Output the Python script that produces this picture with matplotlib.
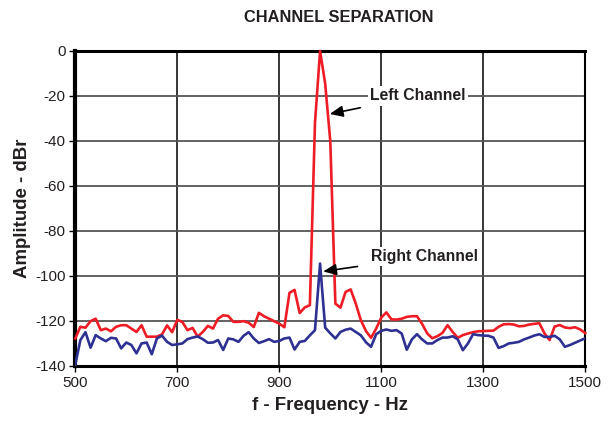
import numpy as np
import matplotlib
matplotlib.use("Agg")
import matplotlib.pyplot as plt

plt.rcParams['font.family'] = ['Liberation Sans', 'DejaVu Sans']

# frequency grid, 10 Hz steps from 500 to 1500 Hz
freq = np.arange(500, 1501, 10)

left_channel = [
    -127.8, -122.6, -123.0, -120.1, -119.0, -124.1, -123.4, -124.6, -122.6, -121.9,
    -121.9, -123.4, -124.9, -121.9, -127.0, -127.0, -127.0, -126.0, -122.0, -125.0,
    -119.5, -120.5, -124.1, -123.1, -127.0, -124.9, -122.2, -123.4, -119.0, -117.5,
    -117.8, -120.4, -120.4, -120.1, -120.8, -122.7, -116.4, -117.9, -119.0, -120.1,
    -121.2, -122.8, -107.5, -106.2, -116.5, -114.0, -113.0, -32.0, 0.0, -14.5,
    -40.0, -112.3, -114.1, -107.1, -106.0, -112.3, -119.7, -124.5, -127.5, -123.4,
    -118.5, -116.2, -119.3, -119.4, -119.0, -118.2, -117.9, -117.9, -121.3, -125.5,
    -127.7, -126.8, -125.3, -121.9, -124.9, -127.5, -126.3, -125.6, -125.0, -124.6,
    -124.5, -124.4, -124.3, -122.6, -121.5, -121.4, -121.6, -122.4, -122.2, -121.6,
    -121.3, -121.0, -125.5, -128.5, -122.5, -121.8, -122.9, -123.2, -122.8, -123.8,
    -125.4,
]

right_channel = [
    -139.5, -128.5, -125.0, -131.9, -126.3, -127.8, -129.0, -127.5, -127.8, -132.2,
    -129.6, -130.7, -134.4, -130.0, -129.6, -134.8, -127.8, -126.5, -129.3, -130.7,
    -130.4, -130.0, -128.1, -127.4, -126.9, -128.1, -129.7, -129.6, -128.5, -132.9,
    -127.8, -128.2, -129.3, -126.6, -125.0, -127.8, -129.8, -129.0, -128.1, -129.3,
    -128.9, -127.8, -127.4, -132.7, -129.3, -128.9, -126.4, -124.1, -94.5, -123.0,
    -125.5, -127.8, -124.9, -123.9, -123.4, -124.9, -126.4, -129.5, -131.5, -125.9,
    -124.4, -123.8, -124.4, -124.1, -125.6, -132.8, -128.2, -125.9, -128.2, -130.0,
    -130.0, -128.5, -127.4, -127.4, -126.8, -128.2, -133.0, -130.0, -125.9, -126.3,
    -126.5, -126.6, -127.4, -132.0, -131.2, -130.0, -129.7, -129.3, -128.2, -127.4,
    -126.5, -125.9, -127.1, -127.1, -126.6, -128.2, -131.5, -130.7, -129.7, -128.7,
    -127.7,
]

x_ticks = [500, 700, 900, 1100, 1300, 1500]
y_ticks = [0, -20, -40, -60, -80, -100, -120, -140]

text_col = '#231f20'

fig = plt.figure(figsize=(6.14, 4.25), dpi=100)
ax = fig.add_axes([0.1226, 0.139, 0.8306, 0.741])

ax.plot(freq, left_channel, color='#ee1c25', lw=1.9, zorder=3, clip_on=False)
ax.plot(freq, right_channel, color='#2e3192', lw=1.9, zorder=4)

ax.set_xlim(500, 1500)
ax.set_ylim(-140, 0)
ax.set_xticks(x_ticks)
ax.set_xticklabels([str(v) for v in x_ticks])
ax.set_yticks(y_ticks)
ax.set_yticklabels([str(v) for v in y_ticks])

ax.xaxis.grid(True, color='black', lw=1.1)
ax.yaxis.grid(True, color='#555555', lw=1.3)
ax.set_axisbelow(True)

for s in ax.spines.values():
    s.set_linewidth(2.2)
    s.set_color('black')
ax.spines['left'].set_linewidth(3)
ax.spines['right'].set_linewidth(1.5)

ax.tick_params(axis='both', direction='out', length=4, width=1,
               labelsize=11, labelcolor=text_col, pad=3)

ax.set_xlabel('f - Frequency - Hz', fontsize=13.4, fontweight='bold',
              color=text_col, labelpad=5)
ax.set_ylabel('Amplitude - dBr', fontsize=13.4, fontweight='bold',
              color=text_col, labelpad=3)
fig.text(0.552, 0.958, 'CHANNEL SEPARATION', ha='center', va='center',
         fontsize=11.8, fontweight='bold', color=text_col)

box = dict(facecolor='white', edgecolor='none', pad=1.5)
ax.annotate('Left Channel', xy=(999, -28), xytext=(1078, -20),
            ha='left', va='center', fontsize=11.3, fontweight='bold',
            color=text_col, bbox=box, zorder=6,
            arrowprops=dict(arrowstyle='-|>,head_length=0.7,head_width=0.3',
                            color='black', lw=1.2, shrinkA=8, shrinkB=0))
ax.annotate('Right Channel', xy=(986, -98), xytext=(1079, -91.5),
            ha='left', va='center', fontsize=11.3, fontweight='bold',
            color=text_col, bbox=box, zorder=6,
            arrowprops=dict(arrowstyle='-|>,head_length=0.7,head_width=0.3',
                            color='black', lw=1.2, shrinkA=8, shrinkB=0))

fig.savefig('out.png', dpi=100)
